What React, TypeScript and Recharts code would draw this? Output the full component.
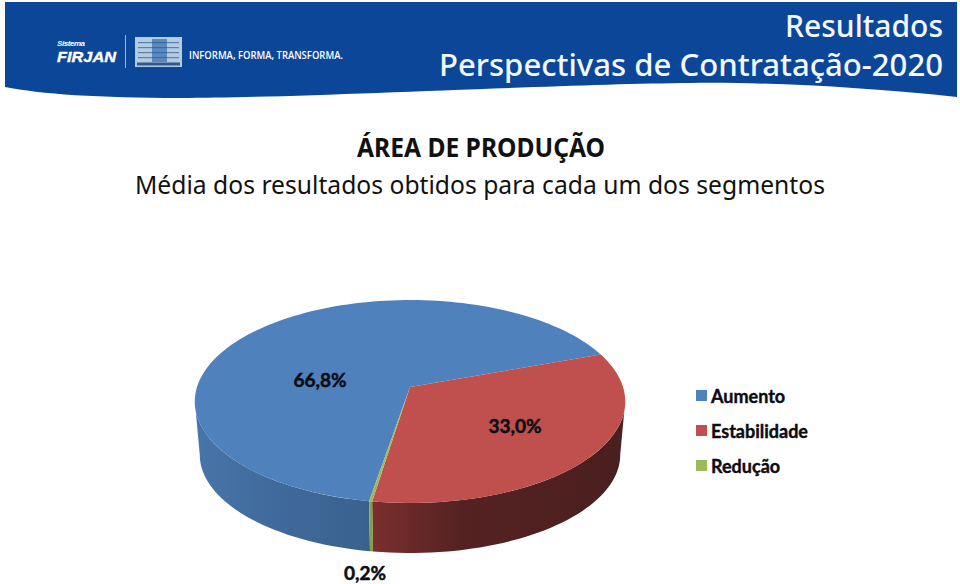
import { Legend, Pie, PieChart } from "recharts";

const segmentNames = ["Aumento", "Estabilidade", "Redução"];
const segmentValues = [66.8, 33.0, 0.2];
const segmentLabels = ["66,8%", "33,0%", "0,2%"];

const TOP_COLORS = ["#4f81bd", "#c0504d", "#9bbb59"];
const WALL_GRADIENTS = [
  ["#4875aa", "#416c9e", "#3a618e"],
  ["#7a2f2d", "#552222", "#4a1f1f"],
  ["#8aa84f", "#83a04a", "#7c9846"],
];
const LABEL_POSITIONS = [
  { x: 320, y: 379 },
  { x: 515, y: 425 },
  { x: 365, y: 572 },
];

const rows = segmentNames.map((name, i) => ({
  name,
  value: segmentValues[i],
  label: segmentLabels[i],
}));

// The disc is tilted with some perspective: the pie's centre sits above the
// middle of the ellipse, so project each polar point instead of squashing it.
const TILT = 0.4667;
const PERSPECTIVE = 0.143;
const RAD = Math.PI / 180;

function topPoint(cx: number, cy: number, r: number, deg: number) {
  const u = Math.cos(deg * RAD);
  const v = Math.sin(deg * RAD);
  const w = 1 + PERSPECTIVE * v;
  return { x: cx + (r * u) / w, y: cy - (r * TILT * v) / w };
}

function lowPoint(cx: number, cy: number, r: number, deg: number) {
  const p = topPoint(cx, cy, r, deg);
  return { x: cx + (p.x - cx) * 0.977, y: cy + (p.y - cy) * 0.97 + 53.5 };
}

function arcPoints(from: number, to: number, at: (deg: number) => { x: number; y: number }) {
  const steps = Math.max(2, Math.ceil(Math.abs(to - from) / 2));
  const pts: string[] = [];
  for (let i = 0; i <= steps; i++) {
    const p = at(from + ((to - from) * i) / steps);
    pts.push(`${p.x.toFixed(2)},${p.y.toFixed(2)}`);
  }
  return pts;
}

// part of a slice that faces the viewer, between the disc's left and right extremes
function frontRange(lo: number, hi: number) {
  for (const k of [-360, 0, 360]) {
    const a = Math.max(lo + k, -172);
    const b = Math.min(hi + k, -8);
    if (a < b) return [a, b];
  }
  return null;
}

function Slice(props: any) {
  const { cx, cy, outerRadius, startAngle, endAngle, fill, index } = props;
  const lo = Math.min(startAngle, endAngle);
  const hi = Math.max(startAngle, endAngle);
  const front = frontRange(lo, hi);
  const top = arcPoints(lo, hi, (d) => topPoint(cx, cy, outerRadius, d));
  return (
    <g>
      {front && (
        <polygon
          points={[
            ...arcPoints(front[0], front[1], (d) => topPoint(cx, cy, outerRadius, d)),
            ...arcPoints(front[1], front[0], (d) => lowPoint(cx, cy, outerRadius, d)),
          ].join(" ")}
          fill={`url(#wall-${index})`}
        />
      )}
      <polygon points={[`${cx},${cy}`, ...top].join(" ")} fill={fill} />
    </g>
  );
}

function SliceLabel({ index }: any) {
  const pos = LABEL_POSITIONS[index];
  return (
    <text
      x={pos.x}
      y={pos.y}
      textAnchor="middle"
      dominantBaseline="central"
      fontFamily="Lato"
      fontWeight={700}
      fontSize={19}
      fill="#0c0c14"
      stroke="#0c0c14"
      strokeWidth={0.5}
    >
      {segmentLabels[index]}
    </text>
  );
}

function LegendList({ payload }: any) {
  return (
    <div>
      {(payload ?? []).map((item: any) => (
        <div
          key={item.value}
          style={{
            display: "flex",
            alignItems: "center",
            height: 35,
            fontFamily: "Lato",
            fontWeight: 700,
            fontSize: 18,
            color: "#0c0c14",
            WebkitTextStroke: "0.4px #0c0c14",
          }}
        >
          <span style={{ width: 11, height: 11, background: item.color, marginRight: 4 }} />
          {item.value}
        </div>
      ))}
    </div>
  );
}

function Header() {
  return (
    <svg width={960} height={210} style={{ position: "absolute", left: 0, top: 0 }}>
      <path
        d="M5,2 L957,2 L957,97 C860,87 770,82 690,83 C560,84 300,98 180,98 C100,98 40,94 5,87 Z"
        fill="#0b4698"
      />
      <text x={57} y={46} fontFamily="Liberation Sans" fontStyle="italic" fontWeight={700} fontSize={8} fill="#fff" textLength={28}>
        Sistema
      </text>
      <text x={57} y={62} fontFamily="Liberation Sans" fontStyle="italic" fontWeight={700} fontSize={15.5} fill="#fff" stroke="#fff" strokeWidth={0.4} textLength={59} lengthAdjust="spacingAndGlyphs">
        FIRJAN
      </text>
      <rect x={125} y={35} width={1} height={33} fill="#9db8dc" />
      <rect x={135} y={37} width={47} height={30} fill="#b4cce2" />
      {[42, 47, 52, 57].map((y) => (
        <rect key={y} x={138} y={y} width={41} height={1.2} fill="#5f80a8" />
      ))}
      <rect x={152} y={39} width={15} height={23} fill="#1f5aa6" opacity={0.6} />
      <rect x={137} y={62.5} width={43} height={3} fill="#31598f" />
      <text x={189} y={59} fontFamily="Open Sans" fontSize={11} fontWeight={600} fill="#fff" textLength={154} lengthAdjust="spacingAndGlyphs">
        INFORMA, FORMA, TRANSFORMA.
      </text>
      <text x={943} y={37} textAnchor="end" fontFamily="Noto Sans" fontWeight={500} fontSize={30} fill="#f4f7fb" textLength={158} lengthAdjust="spacingAndGlyphs">
        Resultados
      </text>
      <text x={943} y={76} textAnchor="end" fontFamily="Noto Sans" fontWeight={500} fontSize={30} fill="#f4f7fb" textLength={504} lengthAdjust="spacingAndGlyphs">
        Perspectivas de Contratação-2020
      </text>
      <text x={357} y={157} fontFamily="Noto Sans" fontWeight={700} fontSize={26} fill="#111" textLength={248} lengthAdjust="spacingAndGlyphs">
        ÁREA DE PRODUÇÃO
      </text>
      <text x={135} y={194} fontFamily="Noto Sans" fontSize={26} fill="#111" textLength={690} lengthAdjust="spacingAndGlyphs">
        Média dos resultados obtidos para cada um dos segmentos
      </text>
    </svg>
  );
}

export default function App() {
  return (
    <div style={{ position: "absolute", left: 0, top: 0, width: 960, height: 584, overflow: "hidden", background: "#fff" }}>
      <Header />
      <PieChart width={960} height={584} margin={{ top: 0, right: 0, bottom: 0, left: 0 }} style={{ position: "absolute", left: 0, top: 0 }}>
        <defs>
          {WALL_GRADIENTS.map(([from, mid, to], i) => (
            <linearGradient key={i} id={`wall-${i}`} x1="0" y1="0" x2="1" y2="0">
              <stop offset="0%" stopColor={from} />
              <stop offset="35%" stopColor={mid} />
              <stop offset="100%" stopColor={to} />
            </linearGradient>
          ))}
        </defs>
        <Pie
          data={rows.map((r, i) => ({ ...r, fill: TOP_COLORS[i] }))}
          dataKey="value"
          nameKey="name"
          cx={410}
          cy={387}
          outerRadius={213}
          startAngle={260.5}
          endAngle={-99.5}
          stroke="none"
          shape={Slice}
          label={SliceLabel}
          labelLine={false}
          isAnimationActive={false}
        />
        <Legend
          layout="vertical"
          content={LegendList}
          wrapperStyle={{ position: "absolute", left: 696, top: 378, width: 130, bottom: "auto", right: "auto" }}
        />
      </PieChart>
    </div>
  );
}
